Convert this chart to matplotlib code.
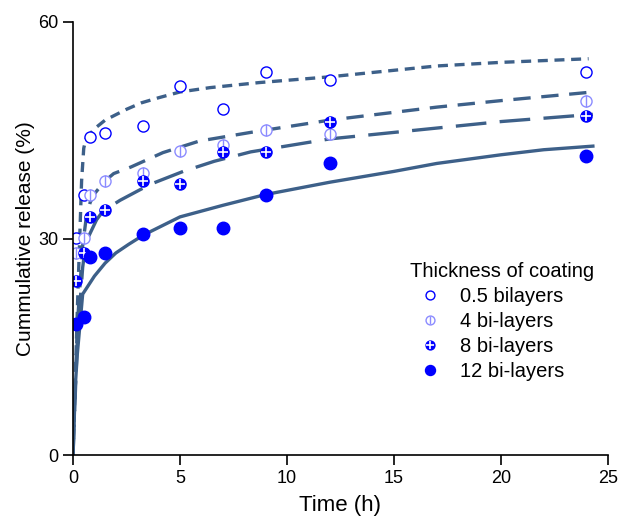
import matplotlib
matplotlib.use("Agg")
import matplotlib.pyplot as plt

plt.rcParams['font.family'] = ['Liberation Sans', 'DejaVu Sans']

# measured release data
time = [0.15, 0.5, 0.8, 1.5, 3.25, 5, 7, 9, 12, 24]
bl05 = [30.1, 36.1, 44.1, 44.6, 45.6, 51.1, 48.0, 53.0, 52.0, 53.0]
bl4 = [28.0, 30.1, 36.1, 38.0, 39.1, 42.1, 43.0, 45.1, 44.5, 49.1]
bl8 = [24.1, 28.0, 33.0, 34.0, 38.0, 37.6, 42.0, 42.0, 46.1, 47.0]
bl12 = [18.1, 19.1, 27.5, 28.0, 30.6, 31.4, 31.4, 36.0, 40.5, 41.5]

# fitted curves
fit05_t = [0, 0.2, 0.4, 0.5, 0.6, 1, 1.5, 2.5, 3.2, 4, 5, 6.4, 8.7, 12, 17, 20, 24.1]
fit05_y = [0, 20, 38, 42.5, 43.8, 45.2, 46.4, 47.9, 48.8, 49.5, 50.3, 50.9, 51.6, 52.4, 53.9, 54.4, 54.9]
fit4_t = [0, 0.2, 0.45, 0.6, 0.8, 1.0, 1.5, 1.9, 2.7, 4.2, 5.9, 8.3, 12, 17, 20, 24.3]
fit4_y = [0, 18, 29, 32.5, 35.0, 36.2, 38.0, 39.0, 39.9, 41.9, 43.5, 44.7, 46.4, 48.2, 49.1, 50.3]
fit8_t = [0, 0.2, 0.45, 0.6, 1.1, 1.4, 2.2, 3.6, 5.15, 6.6, 8.3, 12, 17, 20, 24.3]
fit8_y = [0, 16, 26, 29.5, 32.6, 33.8, 35.3, 37.5, 39.3, 40.7, 42.0, 43.8, 45.3, 46.2, 47.2]
fit12_t = [0, 0.05, 0.2, 0.45, 1, 1.5, 2, 2.6, 3.3, 5, 7, 9, 12, 15, 17, 20, 22, 24.3]
fit12_y = [0, 7, 14, 22.3, 24.8, 26.6, 28.0, 29.2, 30.5, 33.0, 34.6, 36.1, 37.8, 39.3, 40.4, 41.6, 42.3, 42.8]

line_col = '#3d6089'
blue = '#0000ff'
light = '#8c8cff'

fig = plt.figure(figsize=(6.19, 5.22), dpi=100)
ax = fig.add_axes([0.118, 0.128, 0.864, 0.830])

lw = 2.4
l1, = ax.plot(fit05_t, fit05_y, color=line_col, lw=lw)
l1.set_dashes((3.0, 2.0))
l2, = ax.plot(fit4_t, fit4_y, color=line_col, lw=lw)
l2.set_dashes((5.2, 3.2))
l3, = ax.plot(fit8_t, fit8_y, color=line_col, lw=lw)
l3.set_dashes((9.2, 4.0))
ax.plot(fit12_t, fit12_y, color=line_col, lw=lw)

ms = 8
h1 = ax.plot(time, bl05, 'o', ms=ms, mfc='white', mec=blue, mew=1.0, ls='none')[0]
h2a = ax.plot(time, bl4, 'o', ms=ms, mfc='white', mec=light, mew=1.0, ls='none')[0]
h2b = ax.plot(time, bl4, '|', ms=ms, mec=light, mew=1.0, ls='none')[0]
h3a = ax.plot(time, bl8, 'o', ms=ms, mfc=blue, mec=blue, ls='none')[0]
h3b = ax.plot(time, bl8, '+', ms=ms - 1.5, mec='white', mew=1.2, ls='none')[0]
h4 = ax.plot(time, bl12, 'o', ms=ms + 1, mfc=blue, mec=blue, ls='none')[0]

ax.set_xlim(0, 25)
ax.set_ylim(0, 60)
ax.set_xticks([0, 5, 10, 15, 20, 25])
ax.set_yticks([0, 30, 60])
ax.spines['top'].set_visible(False)
ax.spines['right'].set_visible(False)
for s in ['left', 'bottom']:
    ax.spines[s].set_linewidth(1.2)
ax.tick_params(labelsize=13, width=1.2, length=7)
ax.set_xlabel('Time (h)', fontsize=16, labelpad=6)
ax.set_ylabel('Cummulative release (%)', fontsize=15, labelpad=2)

leg = ax.legend([h1, (h2a, h2b), (h3a, h3b), h4],
                ['0.5 bilayers', '4 bi-layers', '8 bi-layers', '12 bi-layers'],
                title='Thickness of coating', frameon=False, fontsize=14.5,
                title_fontsize=14.5, loc='upper left', bbox_to_anchor=(0.615, 0.465),
                handletextpad=0.5, labelspacing=0.3, borderaxespad=0, markerscale=0.8)
leg._legend_box.align = 'left'

fig.savefig('out.png', dpi=100)
